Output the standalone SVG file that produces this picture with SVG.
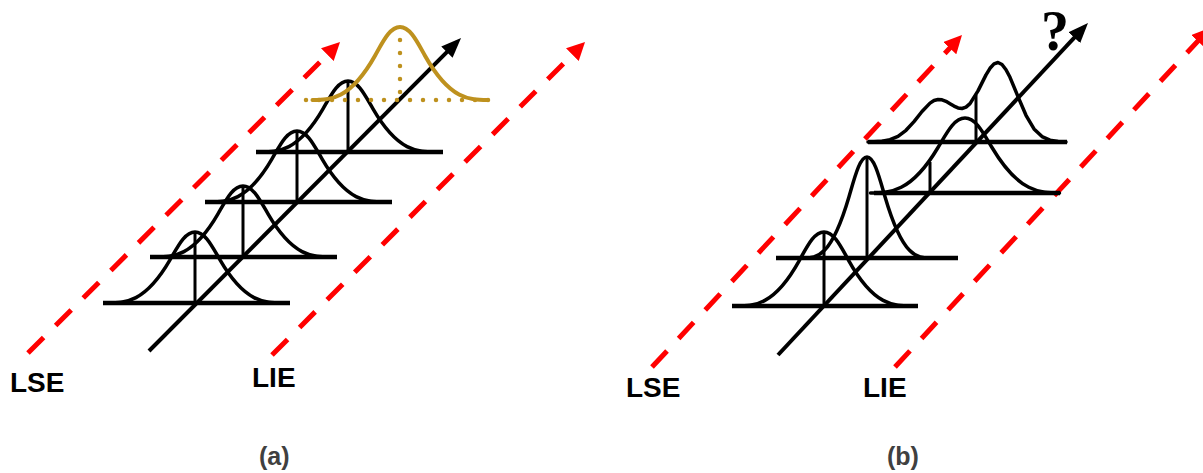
<svg xmlns="http://www.w3.org/2000/svg" width="1203" height="473" viewBox="0 0 1203 473">
  <style>
    .base { stroke: #000; stroke-width: 4.5; fill: none; stroke-linecap: butt; }
    .curve { stroke: #000; stroke-width: 3.5; fill: none; stroke-linejoin: round; stroke-linecap: round; }
    .vert { stroke: #000; stroke-width: 3; fill: none; }
    .gold { stroke: #BE911E; stroke-width: 4; fill: none; stroke-linecap: round; }
    .gold-dot { stroke: #BE911E; stroke-width: 4.5; fill: none; stroke-linecap: round; stroke-dasharray: 0 13; }
    .red { stroke: #FF0000; stroke-width: 5; fill: none; stroke-dasharray: 22 17; }
    .axis { stroke: #000; stroke-width: 4; fill: none; }
    .lbl { font-family: "Liberation Sans", Arial, sans-serif; font-weight: bold; font-size: 28px; fill: #000; }
    .cap { font-family: "Liberation Sans", Arial, sans-serif; font-weight: bold; font-size: 25px; fill: #404040; }
    .q { font-family: "Liberation Serif", "Times New Roman", serif; font-weight: bold; font-size: 56px; fill: #000; }
  </style>
  <defs>
    <marker id="ahBlack" markerUnits="userSpaceOnUse" markerWidth="20" markerHeight="16" refX="14" refY="8" orient="auto">
      <path d="M0,0 L20,8 L0,16 z" fill="#000"/>
    </marker>
    <marker id="ahRed" markerUnits="userSpaceOnUse" markerWidth="18" markerHeight="18" refX="12" refY="9" orient="auto">
      <path d="M0,0 L18,9 L0,18 z" fill="#FF0000"/>
    </marker>
  </defs>
  <rect width="1203" height="473" fill="#fff"/>

  <!-- connectors -->
  <g id="connectors">
    <line class="red" x1="28" y1="353" x2="335.8" y2="46.2" marker-end="url(#ahRed)"/>
    <line class="red" x1="272" y1="355" x2="580.8" y2="46.2" marker-end="url(#ahRed)"/>
    <line class="axis" x1="149" y1="351" x2="456.8" y2="42.2" marker-end="url(#ahBlack)"/>
    <line class="red" x1="652" y1="367" x2="957.9" y2="39.4" marker-end="url(#ahRed)"/>
    <line class="red" x1="895" y1="367" x2="1205.9" y2="32.4" marker-end="url(#ahRed)"/>
    <line class="axis" x1="778" y1="355" x2="1083.9" y2="27.4" marker-end="url(#ahBlack)"/>
  </g>

  <!-- panel (a) -->
  <g id="a-dist1">
    <line class="base" x1="103" y1="303" x2="290" y2="303"/>
    <path class="curve" d="M107.5,303 C125,303 145,303 170,259.9 C178.25,245.7 185,232 195,232 C205,232 211.75,245.7 220,259.9 C245,303 265,303 282.5,303"/>
    <line class="vert" x1="195" y1="232" x2="195" y2="303"/>
  </g>
  <g id="a-dist2">
    <line class="base" x1="150" y1="257" x2="337" y2="257"/>
    <path class="curve" d="M155.5,257 C173,257 193,257 218,213.9 C226.25,199.7 233,186 243,186 C253,186 259.75,199.7 268,213.9 C293,257 313,257 330.5,257"/>
    <line class="vert" x1="243" y1="186" x2="243" y2="257"/>
  </g>
  <g id="a-dist3">
    <line class="base" x1="205" y1="202" x2="392" y2="202"/>
    <path class="curve" d="M209.5,202 C227,202 247,202 272,158.9 C280.25,144.7 287,131 297,131 C307,131 313.75,144.7 322,158.9 C347,202 367,202 384.5,202"/>
    <line class="vert" x1="297" y1="131" x2="297" y2="202"/>
  </g>
  <g id="a-dist4">
    <line class="base" x1="256" y1="152" x2="443" y2="152"/>
    <path class="curve" d="M260.5,152 C278,152 298,152 323,108.9 C331.25,94.7 338,81 348,81 C358,81 364.75,94.7 373,108.9 C398,152 418,152 435.5,152"/>
    <line class="vert" x1="348" y1="81" x2="348" y2="152"/>
  </g>
  <g id="a-forecast">
    <line class="gold-dot" x1="306" y1="100" x2="493" y2="100"/>
    <path class="gold" d="M312.5,100 C330,100 350,100 375,55.7 C383.25,41.1 390,27 400,27 C410,27 416.75,41.1 425,55.7 C450,100 470,100 487.5,100"/>
    <line class="gold-dot" x1="400" y1="40" x2="400" y2="95"/>
  </g>
  <g id="a-labels">
    <text class="lbl" x="10" y="392">LSE</text>
    <text class="lbl" x="252" y="387">LIE</text>
    <text class="cap" x="259" y="465">(a)</text>
  </g>

  <!-- panel (b) -->
  <g id="b-dist1">
    <line class="base" x1="732" y1="306" x2="918" y2="306"/>
    <path class="curve" d="M736.5,306 C754,306 774,306 799,261.1 C807.25,246.3 814,232 824,232 C834,232 840.75,246.3 849,261.1 C874,306 894,306 911.5,306"/>
    <line class="vert" x1="824" y1="232" x2="824" y2="306"/>
  </g>
  <g id="b-dist2">
    <line class="base" x1="776" y1="258" x2="958" y2="258"/>
    <path class="curve" d="M804,258 C816.6,258 831,258 849,196.7 C854.94,176.5 859.8,157 867,157 C874.2,157 879.06,176.5 885,196.7 C903,258 917.4,258 930,258"/>
    <line class="vert" x1="867" y1="157" x2="867" y2="258"/>
  </g>
  <g id="b-dist3">
    <line class="base" x1="874" y1="193" x2="1060" y2="193"/>
    <path class="curve" d="M870.5,193 C889.4,193 911,193 938,147.5 C946.91,132.5 954.2,118 965,118 C975.8,118 983.09,132.5 992,147.5 C1019,193 1040.6,193 1059.5,193"/>
    <line class="vert" x1="930" y1="162" x2="930" y2="193"/>
  </g>
  <g id="b-dist4">
    <line class="base" x1="868" y1="142" x2="1067" y2="142"/>
    <polyline class="curve" points="868,142 874,141.7 882,141.2 890,139.6 898,136.3 906,130.3 914,121.6 922,111.5 930,103.1 934,100.5 938,99.5 942,99.8 946,101.3 950,103.7 954,106.1 958,107.9 962,108.5 966,107.1 970,103.6 978,90.9 986,74.9 990,68.3 994,63.9 998,62.5 1002,64.5 1006,69.7 1010,77.3 1018,96.6 1026,115.3 1034,128.9 1042,136.6 1050,140.1 1058,141.5 1066,142"/>
    <line class="vert" x1="976" y1="95" x2="976" y2="142"/>
  </g>
  <g id="b-labels">
    <text class="q" x="1041" y="50">?</text>
    <text class="lbl" x="626" y="397">LSE</text>
    <text class="lbl" x="863" y="397">LIE</text>
    <text class="cap" x="887" y="465">(b)</text>
  </g>
</svg>
